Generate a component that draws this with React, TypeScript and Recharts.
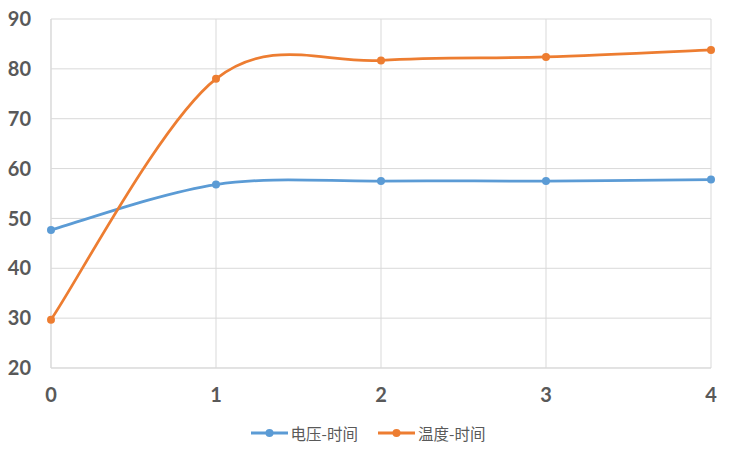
import React from 'react';
import { LineChart, Line, XAxis, YAxis, CartesianGrid, Legend } from 'recharts';

const times = [0, 1, 2, 3, 4];
const voltage = [47.7, 56.8, 57.5, 57.5, 57.8];
const temperature = [29.7, 78.0, 81.7, 82.4, 83.8];
const yTicks = [20, 30, 40, 50, 60, 70, 80, 90];
const seriesNames = ['电压-时间', '温度-时间'];
const seriesColors = ['#5b9bd5', '#ed7d31'];

const data = times.map((t, i) => ({ t, v: voltage[i], temp: temperature[i] }));

// Catmull-Rom style smoothing similar to spreadsheet "smoothed line"
function smoothCurve(context: any) {
  let pts: [number, number][] = [];
  return {
    areaStart() {},
    areaEnd() {},
    lineStart() {
      pts = [];
    },
    point(x: number, y: number) {
      pts.push([+x, +y]);
    },
    lineEnd() {
      const n = pts.length;
      if (n === 0) return;
      context.moveTo(pts[0][0], pts[0][1]);
      for (let i = 0; i < n - 1; i++) {
        const p0 = pts[Math.max(0, i - 1)];
        const p1 = pts[i];
        const p2 = pts[i + 1];
        const p3 = pts[Math.min(n - 1, i + 2)];
        const c1x = p1[0] + (p2[0] - p0[0]) / 6;
        const c1y = p1[1] + (p2[1] - p0[1]) / 6;
        const c2x = p2[0] - (p3[0] - p1[0]) / 6;
        const c2y = p2[1] - (p3[1] - p1[1]) / 6;
        context.bezierCurveTo(c1x, c1y, c2x, c2y, p2[0], p2[1]);
      }
    },
  };
}

const LegendContent = () => (
  <div
    style={{
      display: 'flex',
      justifyContent: 'center',
      alignItems: 'center',
      height: 30,
      fontFamily: '"Noto Sans CJK SC", sans-serif',
      fontSize: 15.5,
      color: '#595959',
    }}
  >
    {seriesNames.map((name, i) => (
      <div key={name} style={{ display: 'flex', alignItems: 'center', marginLeft: i === 0 ? 0 : 20 }}>
        <svg width={37} height={12} style={{ marginRight: 3 }}>
          <line x1={0} y1={6} x2={37} y2={6} stroke={seriesColors[i]} strokeWidth={3} />
          <circle cx={18.5} cy={6} r={4} fill={seriesColors[i]} />
        </svg>
        <span>{name}</span>
      </div>
    ))}
  </div>
);

const tickStyle = { fill: '#595959', fontSize: 20, fontWeight: 'bold', fontFamily: 'Lato, sans-serif' };

export default function App() {
  return (
    <div style={{ position: 'absolute', left: 0, top: 0, width: 736, height: 460, background: '#fff' }}>
      <LineChart width={736} height={460} data={data} margin={{ top: 19, right: 25, left: 0, bottom: 22 }}>
        <CartesianGrid stroke="#d9d9d9" strokeWidth={1} />
        <XAxis
          dataKey="t"
          type="number"
          domain={[0, 4]}
          ticks={times}
          height={40}
          tickSize={0}
          tickMargin={20}
          axisLine={{ stroke: '#d9d9d9' }}
          tickLine={false}
          tick={tickStyle}
        />
        <YAxis
          type="number"
          domain={[20, 90]}
          ticks={yTicks}
          width={51}
          tickSize={0}
          tickMargin={20}
          axisLine={{ stroke: '#d9d9d9' }}
          tickLine={false}
          tick={tickStyle}
        />
        <Legend
          verticalAlign="bottom"
          content={<LegendContent />}
          wrapperStyle={{ top: 418, bottom: 'auto', left: 0, width: 736 }}
        />
        <Line
          type={smoothCurve as any}
          dataKey="v"
          name={seriesNames[0]}
          stroke={seriesColors[0]}
          strokeWidth={2.75}
          dot={{ r: 4, fill: seriesColors[0], stroke: seriesColors[0], strokeWidth: 0 }}
          activeDot={false}
          isAnimationActive={false}
        />
        <Line
          type={smoothCurve as any}
          dataKey="temp"
          name={seriesNames[1]}
          stroke={seriesColors[1]}
          strokeWidth={2.75}
          dot={{ r: 4, fill: seriesColors[1], stroke: seriesColors[1], strokeWidth: 0 }}
          activeDot={false}
          isAnimationActive={false}
        />
      </LineChart>
    </div>
  );
}
